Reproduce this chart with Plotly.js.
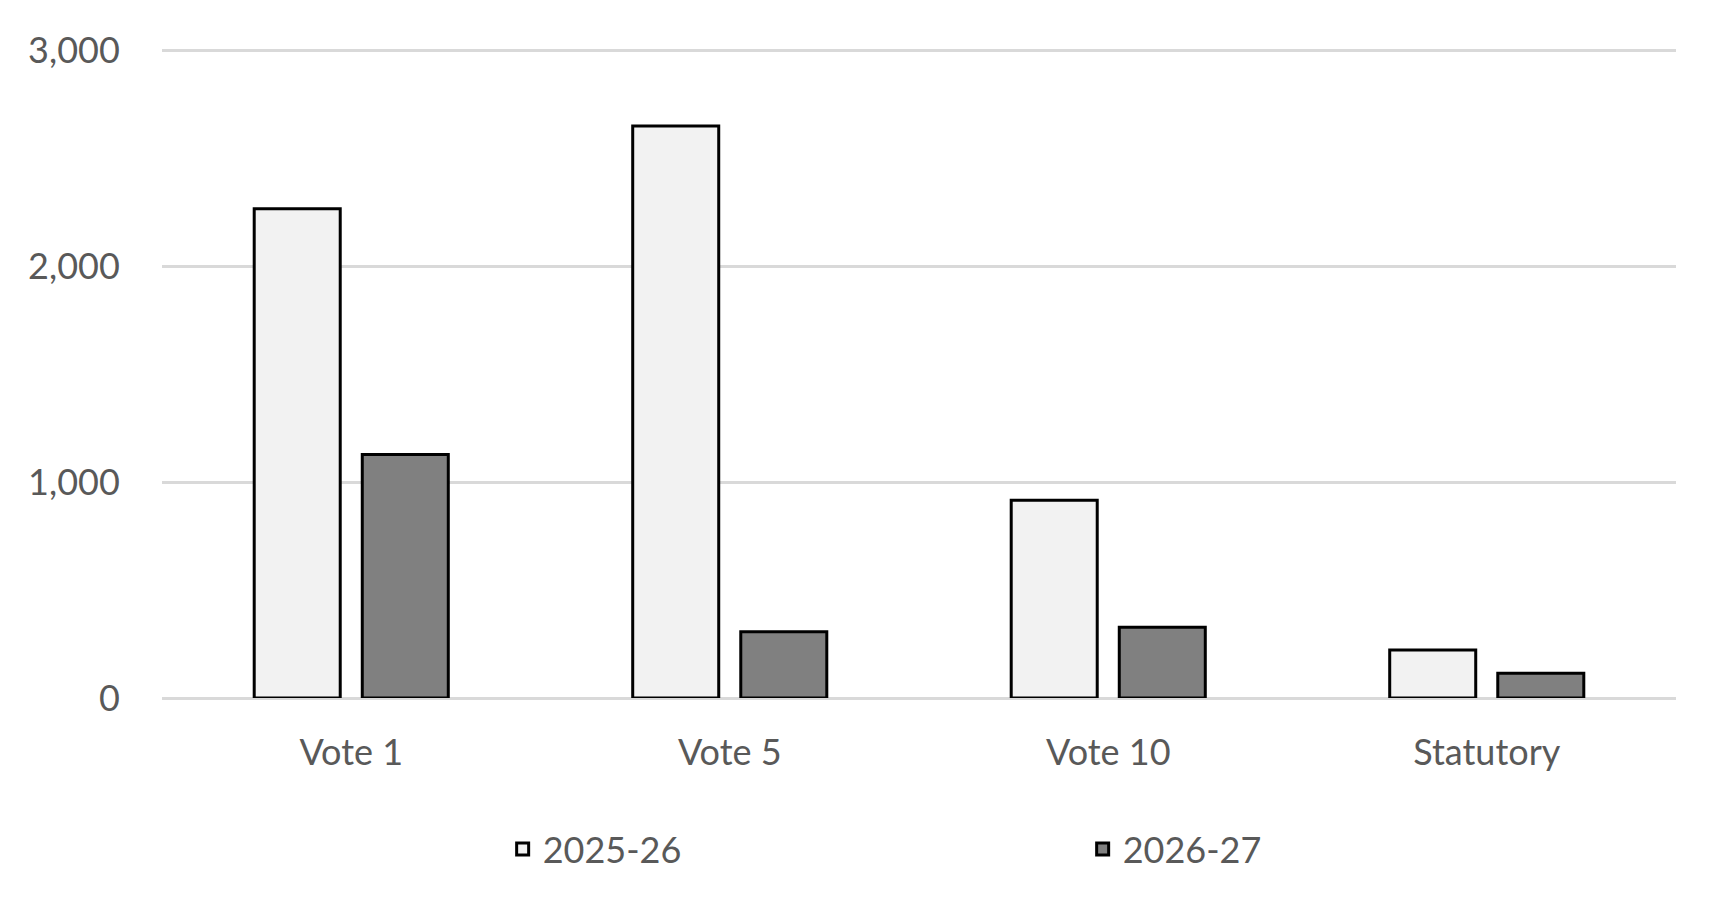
<!DOCTYPE html>
<html>
<head>
<meta charset="utf-8">
<script src="https://cdn.plot.ly/plotly-3.0.1.min.js"></script>
<style>
  html, body { margin: 0; padding: 0; background: #fff; }
  #graph { width: 1729px; height: 911px; }
</style>
</head>
<body>
<div id="graph"></div>
<script>
// values
const categories = ['Vote 1', 'Vote 5', 'Vote 10', 'Statutory'];
const seriesNames = ['2025-26', '2026-27'];
const values2526 = [2265, 2648, 915, 222];
const values2627 = [1127, 307, 327, 115];
const yTickVals = [0, 1000, 2000, 3000];

const fontFamily = 'Lato, "Open Sans", sans-serif';
const textColor = '#595959';

const trace1 = {
    type: 'bar',
    name: seriesNames[0],
    x: categories,
    y: values2526,
    marker: { color: '#f2f2f2', line: { color: '#000000', width: 3 } },
    hoverinfo: 'x+y'
};

const trace2 = {
    type: 'bar',
    name: seriesNames[1],
    x: categories,
    y: values2627,
    marker: { color: '#808080', line: { color: '#000000', width: 3 } },
    hoverinfo: 'x+y'
};

const layout = {
    width: 1729,
    height: 911,
    // a few px of headroom so the 3,000 gridline is drawn inside the plot
    margin: { l: 162, r: 53, t: 47, b: 213 },
    paper_bgcolor: '#ffffff',
    plot_bgcolor: '#ffffff',
    font: { family: fontFamily, size: 36, color: textColor },
    barmode: 'group',
    bargap: 0.429,
    bargroupgap: 0.204,
    showlegend: true,
    legend: {
        orientation: 'h',
        x: 0.225,
        xanchor: 'left',
        y: -0.232,
        yanchor: 'middle',
        entrywidth: 535,
        font: { family: fontFamily, size: 36, color: textColor },
        bgcolor: 'rgba(0,0,0,0)'
    },
    xaxis: {
        type: 'category',
        showgrid: false,
        showline: false,
        ticks: 'outside',
        ticklen: 23,
        tickcolor: 'rgba(0,0,0,0)',
        tickfont: { family: fontFamily, size: 36, color: textColor },
        fixedrange: true
    },
    yaxis: {
        range: [0, 3014],
        tickvals: yTickVals,
        tickformat: ',d',
        showgrid: true,
        gridcolor: '#d9d9d9',
        gridwidth: 3,
        zeroline: true,
        zerolinecolor: '#d9d9d9',
        zerolinewidth: 3,
        showline: false,
        ticks: 'outside',
        ticklen: 34,
        tickcolor: 'rgba(0,0,0,0)',
        tickfont: { family: fontFamily, size: 36, color: textColor },
        fixedrange: true
    }
};

Plotly.newPlot('graph', [trace1, trace2], layout, { displayModeBar: false, staticPlot: true });
</script>
</body>
</html>
